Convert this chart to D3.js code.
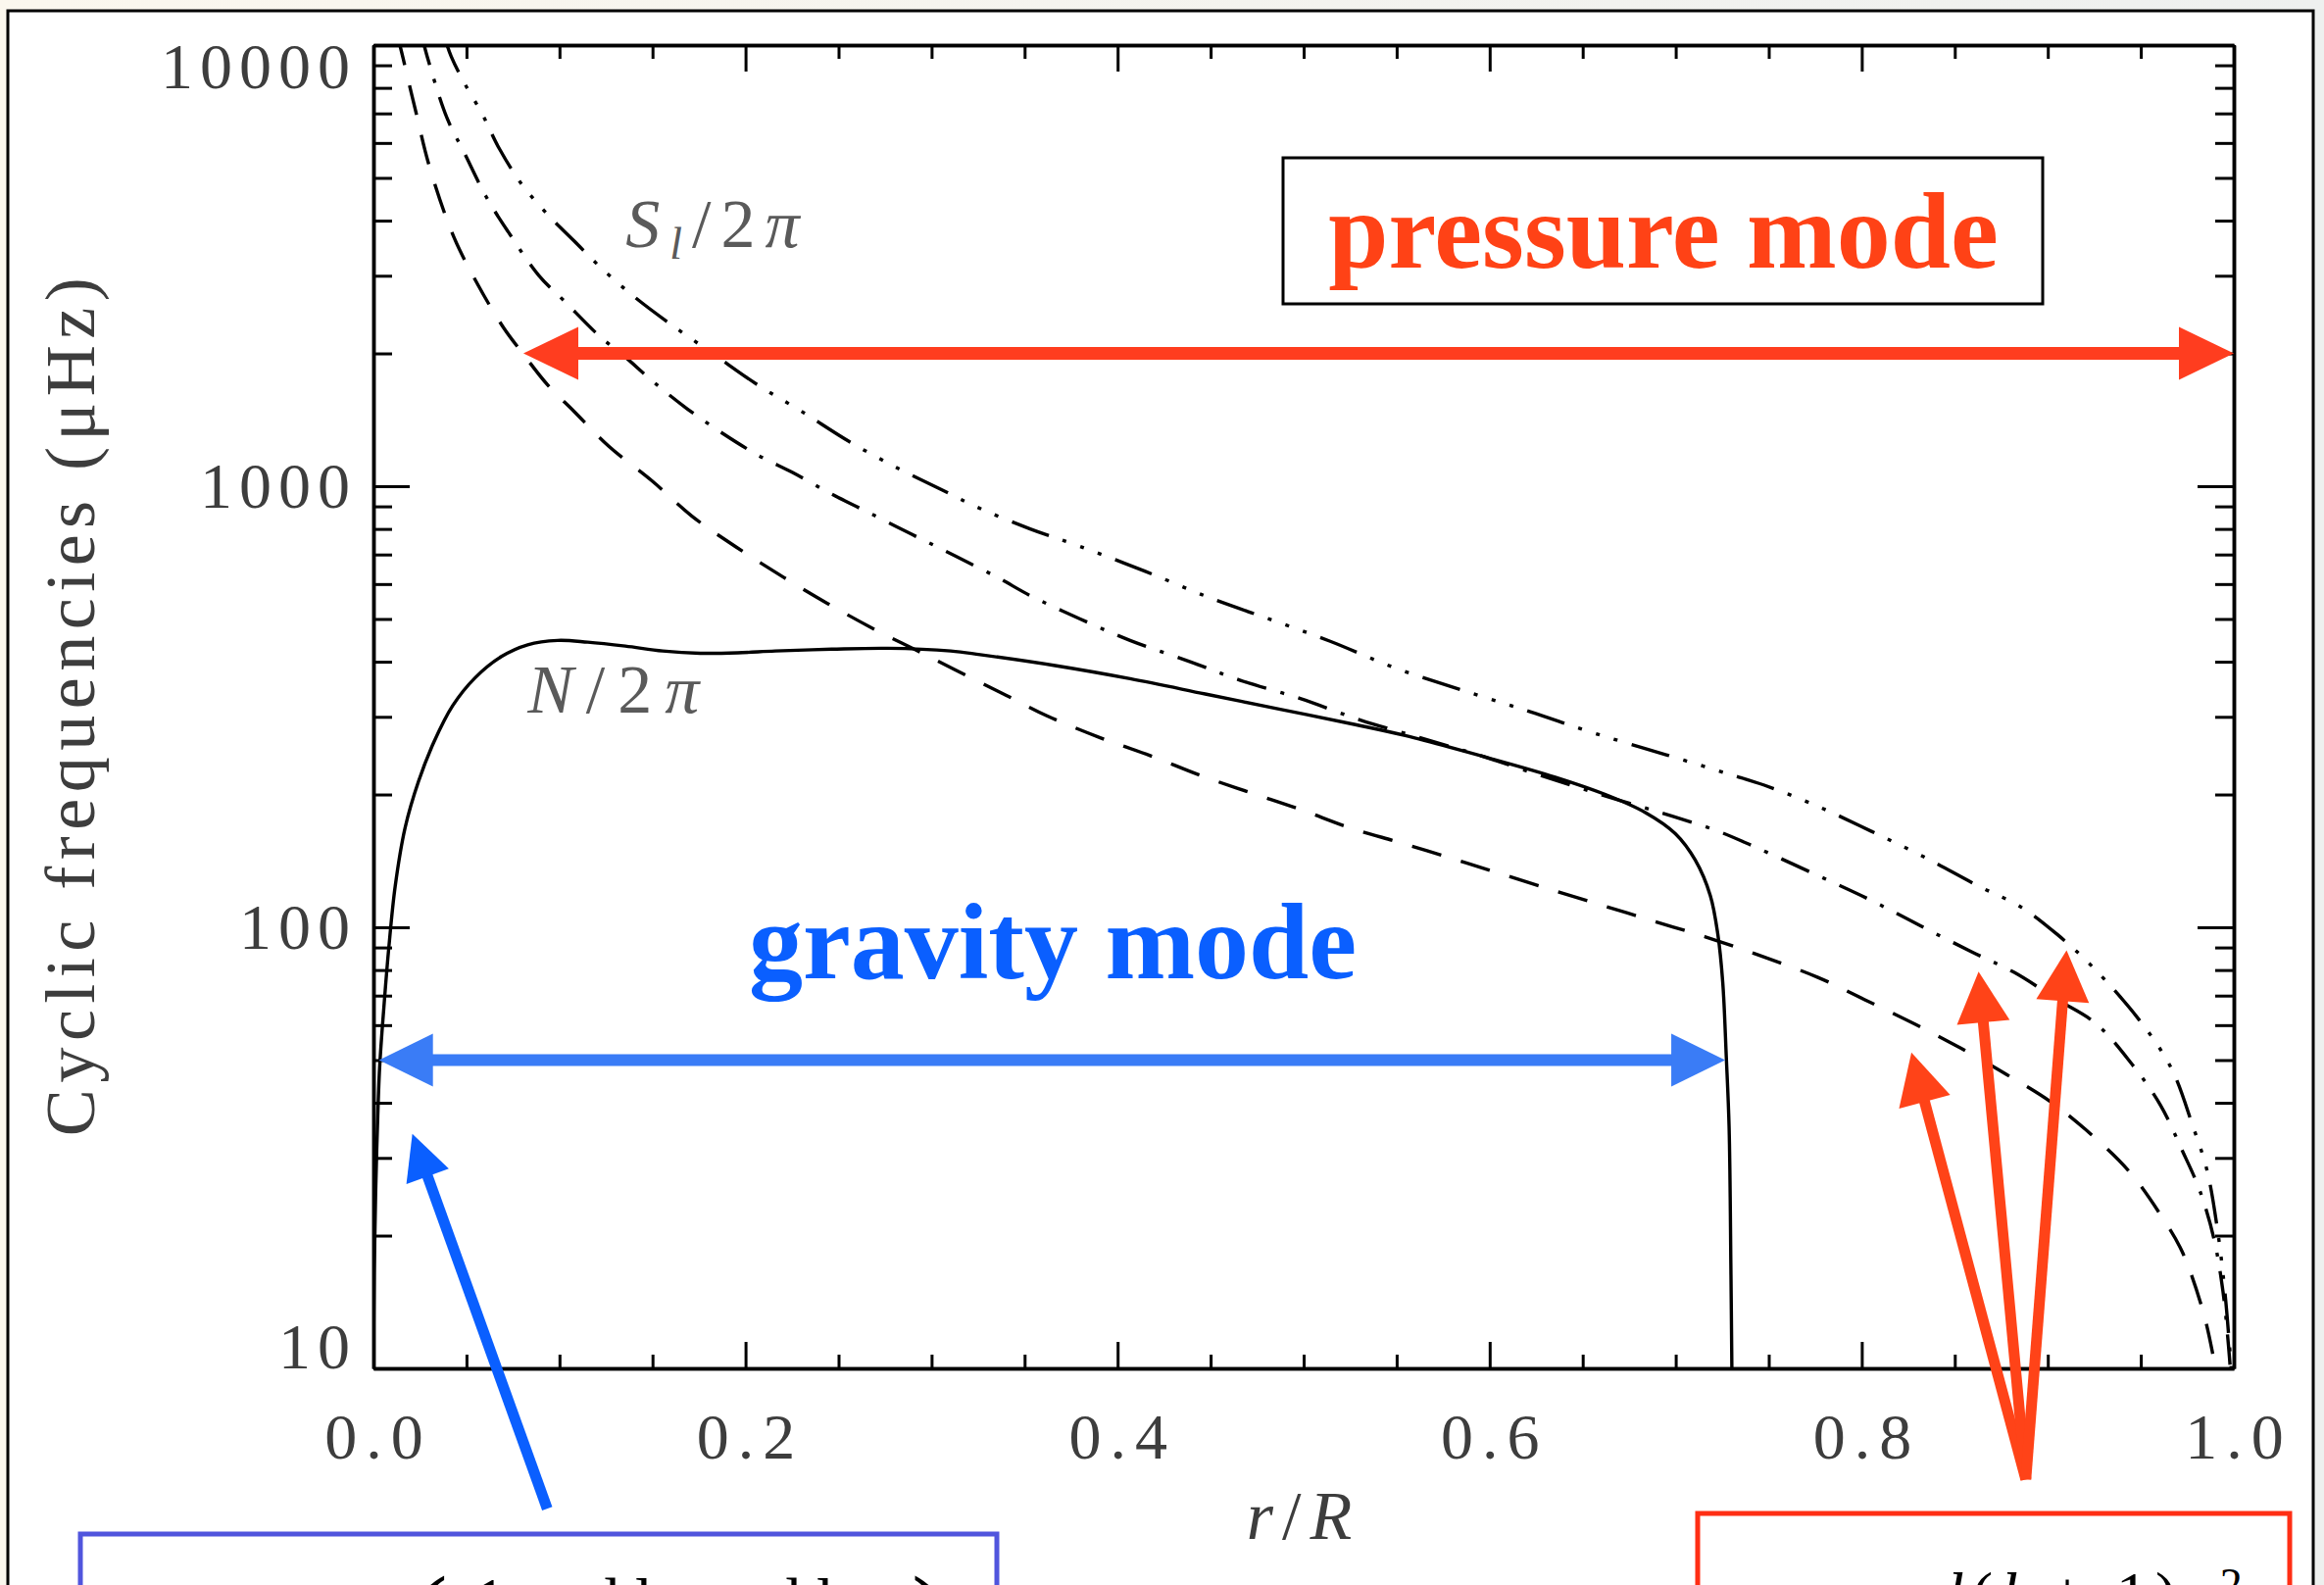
<!DOCTYPE html>
<html><head><meta charset="utf-8">
<script src="https://cdn.jsdelivr.net/npm/d3@7"></script>
<style>html,body{margin:0;padding:0;overflow:hidden;background:#fff}</style>
</head><body>
<svg id="chart" width="2371" height="1617" xmlns="http://www.w3.org/2000/svg"></svg>
<script>
// ---------- data ----------
const xMajorTicks = [0, 0.2, 0.4, 0.6, 0.8, 1.0];
const xTickLabels = ["0.0", "0.2", "0.4", "0.6", "0.8", "1.0"];
const xMinorTicks = [0.05,0.1,0.15,0.25,0.3,0.35,0.45,0.5,0.55,0.65,0.7,0.75,0.85,0.9,0.95];
const yMajorTicks = [10, 100, 1000, 10000];
const yTickLabels = ["10", "100", "1000", "10000"];
const yMinorTicks = [20,30,40,50,60,70,80,90,200,300,400,500,600,700,800,900,2000,3000,4000,5000,6000,7000,8000,9000];

// Lamb frequency S_1/2pi (dashed)
const lambL1 = [[0.013,10500],[0.016,9310],[0.023,7000],[0.030,5320],[0.043,3690],[0.056,2870],[0.070,2285],[0.0806,1991],[0.0936,1697],[0.1077,1479],[0.1265,1232],[0.150,1026],[0.1712,855],[0.1947,729],[0.2206,621],[0.2441,542],[0.270,472],[0.2912,426],[0.3123,384],[0.3405,335],[0.3617,302],[0.3906,269],[0.4175,245],[0.4444,221],[0.4713,202],[0.4982,185],[0.5251,168],[0.552,155.5],[0.5789,143.6],[0.6057,132.4],[0.6353,120.9],[0.6622,111.6],[0.6891,103],[0.716,95.1],[0.7428,87],[0.7764,77],[0.8014,68.6],[0.8283,60.4],[0.8532,53.2],[0.8781,46.3],[0.9012,40.3],[0.9203,34.8],[0.9433,28.1],[0.9606,22.3],[0.9722,18.4],[0.9836,13.4],[0.9894,10.4],[0.991,9.5]];
// Lamb frequency S_2/2pi (dash-dot)
const lambL2 = [[0.026,10500],[0.0289,9420],[0.0395,6840],[0.0489,5690],[0.0606,4530],[0.0724,3775],[0.0888,3007],[0.103,2618],[0.1218,2183],[0.1336,1991],[0.1524,1697],[0.1688,1496],[0.1876,1318],[0.2065,1177],[0.2253,1074],[0.2464,959],[0.2653,875],[0.2888,780],[0.3123,696],[0.3358,620],[0.353,565],[0.3799,500],[0.4067,447],[0.439,400],[0.466,363],[0.4982,330],[0.5305,295],[0.5627,269],[0.595,245],[0.6272,221],[0.6595,200],[0.6917,182],[0.7213,166],[0.7428,152],[0.7764,131],[0.8052,115],[0.8321,100.5],[0.859,88],[0.882,79],[0.905,68.6],[0.9261,60.4],[0.9453,48.9],[0.9606,39.5],[0.9721,31.3],[0.9817,25.3],[0.9894,19.6],[0.9942,14.9],[0.9971,11.3],[0.9985,9.5]];
// Lamb frequency S_3/2pi (dash-dot-dot-dot)
const lambL3 = [[0.038,10500],[0.0418,9420],[0.0489,8200],[0.0583,7000],[0.0677,5820],[0.0795,4850],[0.0936,4130],[0.1077,3603],[0.1241,3076],[0.1406,2680],[0.1594,2335],[0.1829,1991],[0.2065,1697],[0.23,1479],[0.2558,1262],[0.2817,1099],[0.3053,982],[0.3261,890],[0.353,800],[0.3799,730],[0.4149,641],[0.4498,558],[0.482,499],[0.5143,445],[0.5493,387],[0.5842,346],[0.6218,308],[0.6568,275],[0.6949,246],[0.7294,222],[0.7476,210],[0.7764,188],[0.8052,165],[0.834,144],[0.8628,124],[0.8858,111],[0.905,96.4],[0.9241,81.3],[0.9491,61.7],[0.9664,47.9],[0.9779,35.5],[0.9856,28.1],[0.9913,20.5],[0.9952,14.9],[0.998,10.8],[0.999,9.5]];
// Buoyancy frequency N/2pi (solid)
const buoyancyN = [[0,9.9],[0.0004,16.6],[0.0012,25.3],[0.0021,34.8],[0.0033,47.9],[0.0056,65.8],[0.0083,90.3],[0.0117,124],[0.017,168],[0.0242,214],[0.0325,263],[0.0426,318],[0.0547,368],[0.0688,411],[0.0829,437],[0.099,447],[0.1152,443],[0.1354,434],[0.1555,423],[0.1757,418],[0.1958,419],[0.216,423],[0.2463,427],[0.2765,429],[0.3103,423],[0.3261,415],[0.3664,392],[0.4067,366],[0.4471,338],[0.4874,312],[0.5278,288],[0.5546,272],[0.595,245],[0.6352,219],[0.6622,200],[0.6837,182],[0.6998,163],[0.7105,142],[0.7186,118],[0.7227,96],[0.7253,74.8],[0.7272,50.7],[0.7287,35.2],[0.7297,16.3],[0.7302,9.9]];

// annotation arrows (r, frequency)
const pressureArrow = [[0.0806, 2000], [1.0, 2000]];
const gravityArrow = [[0.003, 50], [0.7266, 50]];
const blueArrow = [[0.0934, 4.81], [0.0209, 34.0]];
const redArrowStart = [0.8882, 5.6];
const redArrowTips = [[0.8267, 52.0], [0.8628, 79.3], [0.9101, 88.7]];

// ---------- layout ----------
const P = {left: 381, right: 2279, top: 46, bottom: 1396};
const RED = "#ff3d1f", RED2 = "#ff4318", BLUE_H = "#3a7cf6", BLUE = "#0a5fff";
const GRAY = "#3d3d3d";
const SERIF = "'Liberation Serif', 'Times New Roman', serif";

const svg = d3.select("#chart");
const defs = svg.append("defs");
const grad = defs.append("linearGradient").attr("id","bg").attr("x1","0").attr("x2","1").attr("y1","0").attr("y2","0");
grad.append("stop").attr("offset","0").attr("stop-color","#fbf7ee");
grad.append("stop").attr("offset","1").attr("stop-color","#eef0ef");
svg.append("rect").attr("width",2371).attr("height",1617).attr("fill","url(#bg)");
svg.append("rect").attr("x",8).attr("y",11).attr("width",2352).attr("height",1700)
   .attr("fill","#fff").attr("stroke","#000").attr("stroke-width",3);

defs.append("clipPath").attr("id","plotclip").append("rect")
   .attr("x",P.left).attr("y",P.top).attr("width",P.right-P.left).attr("height",P.bottom-P.top);

const x = d3.scaleLinear().domain([0,1]).range([P.left, P.right]);
const y = d3.scaleLog().domain([10,10000]).range([P.bottom, P.top]);

// ---------- curves ----------
const line = d3.line().x(d=>x(d[0])).y(d=>y(d[1])).curve(d3.curveCatmullRom.alpha(0.5));
const curves = svg.append("g").attr("clip-path","url(#plotclip)")
   .attr("fill","none").attr("stroke","#000").attr("stroke-width",3.4);
curves.append("path").attr("d",line(lambL1)).attr("stroke-dasharray","31 21");
curves.append("path").attr("d",line(lambL2)).attr("stroke-dasharray","31 15 4 15");
curves.append("path").attr("d",line(lambL3)).attr("stroke-dasharray","40 15 4 15 4 15 4 15");
curves.append("path").attr("d",line(buoyancyN));

// ---------- axes ----------
function styleAxis(g){
  g.selectAll("path.domain").attr("stroke","#000").attr("stroke-width",3.5);
  g.selectAll(".tick line").attr("stroke","#000").attr("stroke-width",3);
  g.selectAll(".tick text").remove();
}
const axes = svg.append("g");
axes.append("g").attr("transform",`translate(${P.left},0)`)
  .call(d3.axisLeft(y).tickValues(yMajorTicks).tickSize(-37).tickSizeOuter(0).tickFormat("")).call(styleAxis);
axes.append("g").attr("transform",`translate(${P.left},0)`)
  .call(d3.axisLeft(y).tickValues(yMinorTicks).tickSize(-19).tickSizeOuter(0).tickFormat("")).call(styleAxis);
axes.append("g").attr("transform",`translate(${P.right},0)`)
  .call(d3.axisRight(y).tickValues(yMajorTicks).tickSize(-37).tickSizeOuter(0).tickFormat("")).call(styleAxis);
axes.append("g").attr("transform",`translate(${P.right},0)`)
  .call(d3.axisRight(y).tickValues(yMinorTicks).tickSize(-19).tickSizeOuter(0).tickFormat("")).call(styleAxis);
axes.append("g").attr("transform",`translate(0,${P.bottom})`)
  .call(d3.axisBottom(x).tickValues(xMajorTicks).tickSize(-27).tickSizeOuter(0).tickFormat("")).call(styleAxis);
axes.append("g").attr("transform",`translate(0,${P.bottom})`)
  .call(d3.axisBottom(x).tickValues(xMinorTicks).tickSize(-14).tickSizeOuter(0).tickFormat("")).call(styleAxis);
axes.append("g").attr("transform",`translate(0,${P.top})`)
  .call(d3.axisTop(x).tickValues(xMajorTicks).tickSize(-27).tickSizeOuter(0).tickFormat("")).call(styleAxis);
axes.append("g").attr("transform",`translate(0,${P.top})`)
  .call(d3.axisTop(x).tickValues(xMinorTicks).tickSize(-14).tickSizeOuter(0).tickFormat("")).call(styleAxis);

// tick labels
const lab = svg.append("g").attr("font-family",SERIF).attr("fill",GRAY).attr("font-size",66);
yMajorTicks.forEach((v,i)=>{
  const cy = Math.min(Math.max(y(v), P.top+22), P.bottom-22);
  lab.append("text").attr("x",P.left-17).attr("y",cy+22).attr("text-anchor","end")
     .attr("letter-spacing",7).text(yTickLabels[i]);
});
xMajorTicks.forEach((v,i)=>{
  lab.append("text").attr("x",x(v)+5).attr("y",1488).attr("text-anchor","middle")
     .attr("letter-spacing",9).text(xTickLabels[i]);
});
// axis titles
svg.append("text").attr("transform","translate(96,718) rotate(-90)")
  .attr("font-family",SERIF).attr("font-size",72).attr("fill",GRAY).attr("letter-spacing",6.5)
  .attr("text-anchor","middle").text("Cyclic frequencies (μHz)");
const rt = svg.append("text").attr("x",(P.left+P.right)/2).attr("y",1570).attr("text-anchor","middle")
  .attr("font-family",SERIF).attr("font-size",70).attr("fill",GRAY).attr("letter-spacing",9);
rt.append("tspan").attr("font-style","italic").text("r");
rt.append("tspan").text("/");
rt.append("tspan").attr("font-style","italic").text("R");

// curve labels
const sl = svg.append("text").attr("x",x(0.1355)).attr("y",252).attr("font-family",SERIF)
  .attr("font-size",70).attr("fill","#5a5a5a").attr("letter-spacing",10);
sl.append("tspan").attr("font-style","italic").text("S");
sl.append("tspan").attr("font-style","italic").attr("font-size",46).attr("dy",12).text("l");
sl.append("tspan").attr("dy",-12).text("/2");
sl.append("tspan").attr("font-style","italic").text("π");
const nl = svg.append("text").attr("x",x(0.0828)).attr("y",727).attr("font-family",SERIF)
  .attr("font-size",70).attr("fill","#5a5a5a").attr("letter-spacing",13);
nl.append("tspan").attr("font-style","italic").text("N");
nl.append("tspan").text("/2");
nl.append("tspan").attr("font-style","italic").text("π");

// ---------- annotations ----------
const ann = svg.append("g");
function arrow(x1,y1,x2,y2,o){
  const dx=x2-x1, dy=y2-y1, L=Math.hypot(dx,dy), ux=dx/L, uy=dy/L, px=-uy, py=ux;
  const s = o.both ? o.hl*0.9 : 0, e = o.hl*0.9;
  ann.append("line").attr("x1",x1+ux*s).attr("y1",y1+uy*s).attr("x2",x2-ux*e).attr("y2",y2-uy*e)
     .attr("stroke",o.color).attr("stroke-width",o.w);
  const head=(tx,ty,sx,sy)=>{
    const bx=tx-sx*o.hl, by=ty-sy*o.hl;
    ann.append("path").attr("fill",o.color)
      .attr("d",`M${tx},${ty}L${bx+px*o.hw/2},${by+py*o.hw/2}L${bx-px*o.hw/2},${by-py*o.hw/2}Z`);
  };
  head(x2,y2,ux,uy);
  if(o.both) head(x1,y1,-ux,-uy);
}
arrow(x(pressureArrow[0][0]),y(pressureArrow[0][1]),x(pressureArrow[1][0]),y(pressureArrow[1][1]),
      {w:13,hl:56,hw:54,color:RED,both:true});
arrow(x(gravityArrow[0][0]),y(gravityArrow[0][1]),x(gravityArrow[1][0]),y(gravityArrow[1][1]),
      {w:12,hl:55,hw:54,color:BLUE_H,both:true});
arrow(x(blueArrow[0][0]),y(blueArrow[0][1]),x(blueArrow[1][0]),y(blueArrow[1][1]),
      {w:11,hl:46,hw:46,color:BLUE,both:false});
redArrowTips.forEach(t=>{
  arrow(x(redArrowStart[0]),y(redArrowStart[1]),x(t[0]),y(t[1]),{w:11,hl:52,hw:54,color:RED2,both:false});
});

// pressure mode box
svg.append("rect").attr("x",1309).attr("y",161).attr("width",775).attr("height",149)
  .attr("fill","#fff").attr("stroke","#000").attr("stroke-width",3);
svg.append("text").attr("x",1697).attr("y",273).attr("text-anchor","middle")
  .attr("font-family",SERIF).attr("font-weight","bold").attr("font-size",110).attr("fill","#ff4216")
  .text("pressure mode");
svg.append("text").attr("x",1074).attr("y",998).attr("text-anchor","middle")
  .attr("font-family",SERIF).attr("font-weight","bold").attr("font-size",110).attr("fill",BLUE)
  .text("gravity mode");

// bottom formula boxes (cut by the picture edge, as in the reference)
svg.append("rect").attr("x",82).attr("y",1565).attr("width",935).attr("height",200)
  .attr("fill","#fff").attr("stroke","#5055dd").attr("stroke-width",5);
svg.append("rect").attr("x",1732).attr("y",1544).attr("width",604).attr("height",200)
  .attr("fill","#fff").attr("stroke","#ff2e14").attr("stroke-width",5);
const fb = svg.append("g").attr("font-family",SERIF).attr("fill","#000").attr("font-size",64);
fb.append("text").attr("x",420).attr("y",1684).attr("font-size",110).text("(");
fb.append("text").attr("x",484).attr("y",1654).text("1");
fb.append("text").attr("x",600).attr("y",1654).html('d ln <tspan font-style="italic">p</tspan>');
fb.append("text").attr("x",785).attr("y",1654).html('d ln <tspan font-style="italic">ρ</tspan>');
fb.append("text").attr("x",930).attr("y",1684).attr("font-size",110).text(")");
fb.append("text").attr("x",1986).attr("y",1648).attr("letter-spacing",8)
  .html('<tspan font-style="italic">l</tspan>(<tspan font-style="italic">l</tspan> + 1)<tspan font-style="italic">c</tspan><tspan font-size="46" dy="-16">2</tspan>');
</script>
</body></html>
